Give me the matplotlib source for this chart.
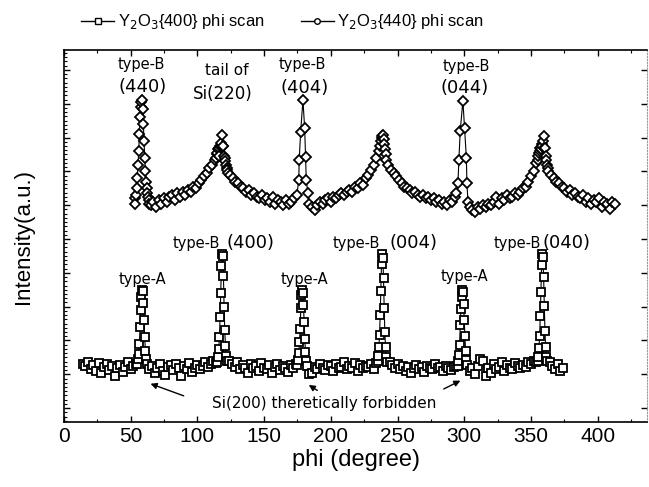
import numpy as np
import matplotlib
matplotlib.use("Agg")
import matplotlib.pyplot as plt
from matplotlib.lines import Line2D
from matplotlib.ticker import MultipleLocator, AutoMinorLocator

plt.rcParams['font.family'] = ['Liberation Sans', 'DejaVu Sans']

# ---- Y2O3{400} phi scan (squares) ----
phi_400 = np.concatenate([
    np.arange(14, 55, 2), np.arange(55, 62.1, 0.5),
    np.arange(64, 115, 2), np.arange(115, 122.1, 0.5),
    np.arange(124, 175, 2), np.arange(175, 182.1, 0.5),
    np.arange(184, 235, 2), np.arange(235, 242.1, 0.5),
    np.arange(244, 295, 2), np.arange(295, 302.1, 0.5),
    np.arange(304, 355, 2), np.arange(355, 362.1, 0.5),
    np.arange(364, 375, 2)])
int_400 = [
    1.30, 1.25, 1.35, 1.15, 1.28, 1.10, 1.32, 1.05, 1.22, 1.30, 1.12, 1.25, 0.95, 1.18, 1.28, 1.08, 1.22, 1.35, 1.15, 1.25, 1.30,
    1.30, 1.45, 1.60, 1.90, 2.40, 2.90, 3.30, 3.50, 3.45, 3.10, 2.60, 2.10, 1.70, 1.45, 1.30,
    1.15, 1.25, 1.05, 1.20, 1.30, 1.10, 0.98, 1.22, 1.28, 1.12, 1.30, 1.18, 0.95, 1.25, 1.15, 1.32, 1.08, 1.20, 1.28, 1.15, 1.25, 1.35, 1.22, 1.30, 1.40, 1.32,
    1.35, 1.50, 1.75, 2.10, 2.70, 3.40, 4.20, 4.55, 4.50, 3.90, 3.00, 2.30, 1.85, 1.55, 1.40,
    1.40, 1.30, 1.22, 1.35, 1.15, 1.28, 1.20, 1.05, 1.30, 1.18, 1.25, 1.10, 1.32, 1.20, 1.15, 1.28, 1.05, 1.22, 1.30, 1.12, 1.25, 1.18, 1.08, 1.28, 1.20, 1.30,
    1.28, 1.42, 1.62, 1.95, 2.35, 2.95, 3.35, 3.50, 3.40, 3.05, 2.55, 2.05, 1.65, 1.40, 1.25,
    1.00, 1.05, 1.22, 1.15, 1.30, 1.20, 1.12, 1.28, 1.25, 1.10, 1.30, 1.18, 1.22, 1.35, 1.15, 1.25, 1.20, 1.32, 1.10, 1.28, 1.18, 1.25, 1.22, 1.30, 1.15, 1.32,
    1.38, 1.55, 1.80, 2.15, 2.75, 3.45, 4.25, 4.55, 4.45, 3.85, 2.95, 2.25, 1.80, 1.50, 1.35,
    1.35, 1.28, 1.20, 1.30, 1.15, 1.25, 1.10, 1.22, 1.05, 1.18, 1.28, 1.15, 1.22, 1.08, 1.25, 1.20, 1.15, 1.30, 1.18, 1.22, 1.10, 1.25, 1.18, 1.12, 1.22, 1.25,
    1.25, 1.40, 1.58, 1.88, 2.45, 2.92, 3.30, 3.50, 3.42, 3.08, 2.62, 2.12, 1.68, 1.42, 1.28,
    1.10, 1.20, 1.00, 1.25, 1.45, 1.38, 0.95, 1.20, 1.05, 1.30, 1.15, 1.22, 1.35, 1.10, 1.28, 1.20, 1.15, 1.32, 1.25, 1.18, 1.28, 1.22, 1.35, 1.30, 1.40, 1.35,
    1.40, 1.52, 1.78, 2.12, 2.72, 3.42, 4.22, 4.55, 4.48, 3.88, 3.02, 2.28, 1.82, 1.52, 1.38,
    1.35, 1.25, 1.15, 1.30, 1.10, 1.20]

# ---- Y2O3{440} phi scan (diamonds) ----
phi_440 = np.concatenate([
    np.arange(53, 64.1, 0.5), np.arange(65, 114, 2), np.arange(114, 123.1, 0.5),
    np.arange(124.5, 175, 2),
    [176.0, 176.3, 177.4, 179.1, 180.4, 181.1, 181.6, 182.8],
    np.arange(184, 237, 2), np.arange(237, 241.6, 0.5), np.arange(243, 294, 2),
    [294.0, 295.3, 296.0, 297.0, 299.0, 300.3, 301.6, 302.0, 302.8],
    np.arange(304, 355, 2), np.arange(355, 363.1, 0.5), np.arange(365, 414, 2)])
int_440 = [
    6.20, 6.05, 6.30, 6.50, 6.80, 7.20, 7.60, 8.10, 8.60, 8.90, 9.05, 9.10, 8.85, 8.40, 7.90, 7.40, 7.00, 6.70, 6.50, 6.35, 6.25, 6.15, 6.05,
    6.00, 6.10, 5.95, 6.15, 6.05, 6.20, 6.10, 6.25, 6.30, 6.15, 6.35, 6.25, 6.40, 6.30, 6.45, 6.40, 6.55, 6.50, 6.65, 6.75, 6.85, 6.95, 7.10, 7.20, 7.35,
    7.40, 7.50, 7.55, 7.65, 7.70, 7.45, 7.75, 7.75, 7.85, 8.08, 7.75, 7.75, 7.45, 7.40, 7.30, 7.20, 7.10, 7.05, 6.95,
    6.90, 6.80, 6.70, 6.65, 6.55, 6.50, 6.40, 6.45, 6.30, 6.35, 6.25, 6.20, 6.30, 6.15, 6.20, 6.10, 6.25, 6.05, 6.15, 6.10, 6.00, 6.15, 6.05, 6.10, 6.20, 6.30,
    6.75, 7.34, 8.18, 9.11, 8.27, 7.43, 6.75, 6.35,
    6.05, 5.95, 5.86, 6.00, 6.10, 6.05, 6.15, 6.20, 6.10, 6.25, 6.20, 6.30, 6.35, 6.30, 6.40, 6.45, 6.40, 6.55, 6.50, 6.65, 6.60, 6.80, 6.90, 7.05, 7.20, 7.40, 7.60,
    7.75, 7.90, 8.00, 8.05, 8.08, 7.95, 7.80, 7.65, 7.50, 7.35,
    7.20, 7.05, 6.95, 6.85, 6.75, 6.65, 6.55, 6.50, 6.45, 6.35, 6.40, 6.30, 6.25, 6.30, 6.20, 6.25, 6.15, 6.20, 6.10, 6.15, 6.05, 6.10, 6.00, 6.15, 6.10, 6.25,
    6.35, 6.67, 7.34, 8.20, 9.09, 8.27, 7.40, 6.67, 6.10,
    5.95, 5.86, 5.80, 5.95, 5.90, 6.00, 5.95, 6.05, 6.00, 6.10, 6.25, 6.05, 6.20, 6.15, 6.30, 6.20, 6.25, 6.35, 6.30, 6.40, 6.50, 6.55, 6.70, 6.85, 7.00, 7.25,
    7.35, 7.45, 7.55, 7.60, 7.70, 7.65, 7.80, 7.75, 7.90, 7.70, 8.05, 7.70, 7.45, 7.35, 7.20, 7.10, 7.00,
    6.90, 6.80, 6.70, 6.65, 6.55, 6.50, 6.40, 6.45, 6.30, 6.35, 6.25, 6.20, 6.30, 6.10, 6.20, 6.05, 6.15, 6.10, 6.20, 5.95, 6.10, 6.05, 5.90, 6.10, 6.05]

fig = plt.figure(figsize=(6.49, 4.87), dpi=100)
ax = fig.add_axes([64/649, 1-422/487, 583/649, 372/487])

ax.plot(phi_400, int_400, color='k', lw=0.8, marker='s', ms=5.8, mfc='white', mec='k', mew=1.3)
ax.plot(phi_440, int_440, color='k', lw=0.8, marker='D', ms=5.2, mfc='white', mec='k', mew=1.3)

ax.set_xlim(0, 437)
ax.set_ylim(-0.41, 10.59)
ax.xaxis.set_major_locator(MultipleLocator(50))
ax.xaxis.set_minor_locator(MultipleLocator(25))
ax.yaxis.set_major_locator(MultipleLocator(1))
ax.yaxis.set_minor_locator(AutoMinorLocator(8))
ax.set_yticklabels([])
ax.tick_params(which='major', direction='in', length=4, width=1, top=True, right=True, labelsize=15)
ax.tick_params(which='minor', direction='in', length=2, width=0.8, top=True, right=False)
ax.spines['right'].set_color('0.6')
ax.spines['right'].set_linestyle(':')
for s in ['left', 'bottom', 'top']:
    ax.spines[s].set_linewidth(1.2)

ax.set_xlabel('phi (degree)', fontsize=17, labelpad=2)
ax.set_ylabel('Intensity(a.u.)', fontsize=16, labelpad=18)

ann = ['DejaVu Sans']
# upper labels
ax.text(58, 10.15, 'type-B', ha='center', va='center', fontsize=10.5, family=ann)
ax.text(59, 9.5, '(440)', ha='center', va='center', fontsize=13, family=ann)
ax.text(121.7, 9.98, 'tail of', ha='center', va='center', fontsize=11, family=ann)
ax.text(119, 9.3, 'Si(220)', ha='center', va='center', fontsize=12, family=ann)
ax.text(179, 10.15, 'type-B', ha='center', va='center', fontsize=10.5, family=ann)
ax.text(180.5, 9.47, '(404)', ha='center', va='center', fontsize=13, family=ann)
ax.text(301.6, 10.1, 'type-B', ha='center', va='center', fontsize=10.5, family=ann)
ax.text(300.5, 9.46, '(044)', ha='center', va='center', fontsize=13, family=ann)
# lower labels
ax.text(59.1, 3.79, 'type-A', ha='center', va='center', fontsize=10.5, family=ann)
ax.text(180.4, 3.79, 'type-A', ha='center', va='center', fontsize=10.5, family=ann)
ax.text(300.3, 3.88, 'type-A', ha='center', va='center', fontsize=10.5, family=ann)
ax.text(117, 4.87, 'type-B', ha='right', va='center', fontsize=10.5, family=ann)
ax.text(121.5, 4.87, '(400)', ha='left', va='center', fontsize=13, family=ann)
ax.text(236.5, 4.87, 'type-B', ha='right', va='center', fontsize=10.5, family=ann)
ax.text(244, 4.87, '(004)', ha='left', va='center', fontsize=13, family=ann)
ax.text(357.5, 4.87, 'type-B', ha='right', va='center', fontsize=10.5, family=ann)
ax.text(359, 4.87, '(040)', ha='left', va='center', fontsize=13, family=ann)
ax.text(195.3, 0.14, 'Si(200) theretically forbidden', ha='center', va='center', fontsize=11, family=ann)

arrow = dict(arrowstyle='-|>', color='k', lw=1, mutation_scale=9)
ax.annotate('', xy=(62.9, 0.75), xytext=(91.7, 0.335), arrowprops=arrow)
ax.annotate('', xy=(181.7, 0.73), xytext=(191.6, 0.48), arrowprops=arrow)
ax.annotate('', xy=(299, 0.85), xytext=(282.8, 0.53), arrowprops=arrow)

handles = [Line2D([], [], color='k', lw=1, marker='s', ms=4, mfc='white', mec='k'),
           Line2D([], [], color='k', lw=1, marker='o', ms=4, mfc='white', mec='k')]
labels = [r'Y$_2$O$_3${400} phi scan', r'Y$_2$O$_3${440} phi scan']
fig.legend(handles, labels, loc='center', bbox_to_anchor=(0.435, 0.955), ncol=2,
           frameon=False, fontsize=12, handlelength=2.0, handletextpad=0.2, columnspacing=2.2)

fig.savefig('out.png', dpi=100)
